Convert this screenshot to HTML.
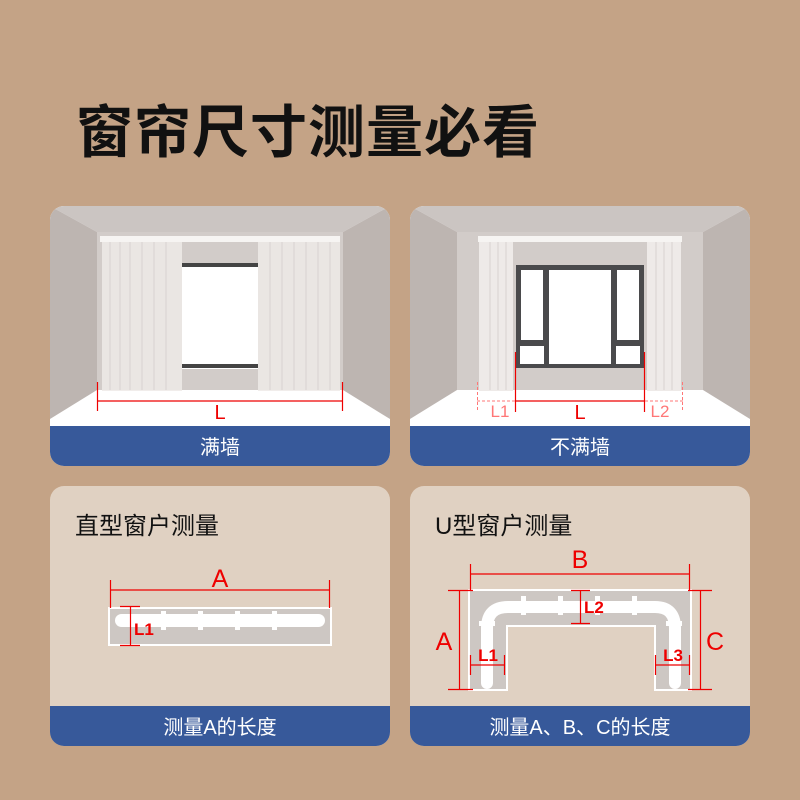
<!DOCTYPE html>
<html><head><meta charset="utf-8"><style>
body{margin:0;width:800px;height:800px;background:#c4a386;font-family:"Liberation Sans","Noto Sans CJK SC",sans-serif;overflow:hidden}
</style></head><body>
<svg width="800" height="800" viewBox="0 0 800 800" xmlns="http://www.w3.org/2000/svg" style="position:absolute;left:0;top:0">
<defs>
<clipPath id="c1"><rect x="0" y="0" width="340" height="260" rx="14"/></clipPath>
</defs>
<text x="76" y="152" font-size="57" font-weight="bold" fill="#111" font-family="Noto Sans CJK SC, sans-serif" letter-spacing="1">窗帘尺寸测量必看</text>

<!-- card 1 -->
<g transform="translate(50,206)" clip-path="url(#c1)">
<rect width="340" height="260" fill="#fff"/>
<polygon points="0,0 340,0 293,26 47,26" fill="#cbc5c2"/>
<polygon points="0,0 47,26 47,184 0,213" fill="#bdb5b1"/>
<polygon points="340,0 293,26 293,184 340,213" fill="#bdb5b1"/>
<rect x="47" y="26" width="246" height="158" fill="#d2ccc9"/>
<rect x="132" y="57" width="76" height="106" fill="#fff"/>
<rect x="132" y="57" width="76" height="4" fill="#444"/>
<rect x="132" y="158" width="76" height="4" fill="#444"/>
<rect x="52" y="32" width="80" height="153" fill="#eeeae8" opacity="0.85"/>
<rect x="208" y="32" width="82" height="153" fill="#eeeae8" opacity="0.85"/>
<g stroke="#d8d3d0" stroke-width="1">
<line x1="60" y1="35" x2="60" y2="184"/><line x1="70" y1="35" x2="70" y2="184"/><line x1="80" y1="35" x2="80" y2="184"/><line x1="92" y1="35" x2="92" y2="184"/><line x1="104" y1="35" x2="104" y2="184"/><line x1="116" y1="35" x2="116" y2="184"/>
<line x1="220" y1="35" x2="220" y2="184"/><line x1="232" y1="35" x2="232" y2="184"/><line x1="244" y1="35" x2="244" y2="184"/><line x1="256" y1="35" x2="256" y2="184"/><line x1="268" y1="35" x2="268" y2="184"/><line x1="280" y1="35" x2="280" y2="184"/>
</g>
<rect x="50" y="30" width="240" height="6" fill="#f6f4f2"/>
<g stroke="#e00" stroke-width="1.2"><line x1="47" y1="195" x2="293" y2="195"/><line x1="47.5" y1="176" x2="47.5" y2="205"/><line x1="292.5" y1="176" x2="292.5" y2="205"/></g>
<text x="170" y="213" font-size="20" fill="#e00" text-anchor="middle">L</text>
<rect x="0" y="220" width="340" height="40" fill="#37599a"/>
<text x="170" y="248" font-size="20" fill="#fff" text-anchor="middle">满墙</text>
</g>

<!-- card 2 -->
<g transform="translate(410,206)" clip-path="url(#c1)">
<rect width="340" height="260" fill="#fff"/>
<polygon points="0,0 340,0 293,26 47,26" fill="#cbc5c2"/>
<polygon points="0,0 47,26 47,184 0,213" fill="#bdb5b1"/>
<polygon points="340,0 293,26 293,184 340,213" fill="#bdb5b1"/>
<rect x="47" y="26" width="246" height="158" fill="#d2ccc9"/>
<rect x="106" y="59" width="128" height="103" fill="#4a4a4c"/>
<rect x="111" y="64" width="22" height="70" fill="#fff"/>
<rect x="139" y="64" width="62" height="94" fill="#fff"/>
<rect x="207" y="64" width="22" height="70" fill="#fff"/>
<rect x="110" y="140" width="24" height="18" fill="#fff"/>
<rect x="206" y="140" width="24" height="18" fill="#fff"/>
<rect x="69" y="34" width="34" height="151" fill="#eeeae8"/>
<rect x="237" y="34" width="34" height="151" fill="#eeeae8"/>
<g stroke="#d8d3d0"><line x1="80" y1="36" x2="80" y2="184"/><line x1="88" y1="36" x2="88" y2="184"/><line x1="96" y1="36" x2="96" y2="184"/><line x1="246" y1="36" x2="246" y2="184"/><line x1="254" y1="36" x2="254" y2="184"/><line x1="262" y1="36" x2="262" y2="184"/></g>
<rect x="68" y="30" width="204" height="6" fill="#f6f4f2"/>
<g stroke="#e00" stroke-width="1.2"><line x1="105" y1="195" x2="235" y2="195"/><line x1="105.5" y1="146" x2="105.5" y2="206"/><line x1="234.5" y1="146" x2="234.5" y2="206"/></g>
<g stroke="#f77" stroke-width="1" stroke-dasharray="3,2"><line x1="67" y1="195" x2="105" y2="195"/><line x1="235" y1="195" x2="273" y2="195"/><line x1="67.5" y1="176" x2="67.5" y2="204"/><line x1="272.5" y1="176" x2="272.5" y2="204"/></g>
<text x="170" y="213" font-size="20" fill="#e00" text-anchor="middle">L</text>
<text x="90" y="211" font-size="17" fill="#f77" text-anchor="middle">L1</text>
<text x="250" y="211" font-size="17" fill="#f77" text-anchor="middle">L2</text>
<rect x="0" y="220" width="340" height="40" fill="#37599a"/>
<text x="170" y="248" font-size="20" fill="#fff" text-anchor="middle">不满墙</text>
</g>

<!-- card 3 -->
<g transform="translate(50,486)" clip-path="url(#c1)">
<rect width="340" height="260" fill="#e0d1c2"/>
<text x="25" y="48" font-size="24" fill="#111">直型窗户测量</text>
<rect x="59" y="122" width="222" height="37" fill="#cdc7c3" stroke="#fff" stroke-width="2"/>
<rect x="65" y="128" width="210" height="13" rx="6.5" fill="#fff"/>
<g fill="#fff"><rect x="111" y="125" width="5" height="19"/><rect x="148" y="125" width="5" height="19"/><rect x="185" y="125" width="5" height="19"/><rect x="222" y="125" width="5" height="19"/></g>
<g stroke="#e00" stroke-width="1.2"><line x1="60" y1="104" x2="280" y2="104"/><line x1="60.5" y1="94" x2="60.5" y2="122"/><line x1="279.5" y1="94" x2="279.5" y2="122"/><line x1="80.5" y1="120" x2="80.5" y2="160"/><line x1="70" y1="120.5" x2="90" y2="120.5"/><line x1="70" y1="159.5" x2="90" y2="159.5"/></g>
<text x="170" y="101" font-size="25" fill="#e00" text-anchor="middle">A</text>
<text x="84" y="149" font-size="17" font-weight="bold" fill="#e00">L1</text>
<rect x="0" y="220" width="340" height="40" fill="#37599a"/>
<text x="170" y="248" font-size="20" fill="#fff" text-anchor="middle">测量A的长度</text>
</g>

<!-- card 4 -->
<g transform="translate(410,486)" clip-path="url(#c1)">
<rect width="340" height="260" fill="#e0d1c2"/>
<text x="25" y="48" font-size="24" fill="#111">U型窗户测量</text>
<path d="M59 104 H281 V204 H245 V140 H97 V204 H59 Z" fill="#cdc7c3" stroke="#fff" stroke-width="2"/>
<path d="M77 197 V142 Q77 121 98 121 H245 Q265 121 265 142 V197" fill="none" stroke="#fff" stroke-width="12" stroke-linecap="round"/>
<g fill="#fff"><rect x="111" y="110" width="5" height="19"/><rect x="148" y="110" width="5" height="19"/><rect x="185" y="110" width="5" height="19"/><rect x="222" y="110" width="5" height="19"/><rect x="69" y="135" width="16" height="5"/><rect x="256" y="135" width="16" height="5"/></g>
<g stroke="#e00" stroke-width="1.2">
<line x1="60" y1="88" x2="280" y2="88"/><line x1="60.5" y1="78" x2="60.5" y2="104"/><line x1="279.5" y1="78" x2="279.5" y2="104"/>
<line x1="49.5" y1="104" x2="49.5" y2="204"/><line x1="38" y1="104.5" x2="63" y2="104.5"/><line x1="38" y1="203.5" x2="63" y2="203.5"/>
<line x1="290.5" y1="104" x2="290.5" y2="204"/><line x1="278" y1="104.5" x2="302" y2="104.5"/><line x1="278" y1="203.5" x2="302" y2="203.5"/>
<line x1="170.5" y1="104" x2="170.5" y2="138"/><line x1="161" y1="104.5" x2="180" y2="104.5"/><line x1="161" y1="137.5" x2="180" y2="137.5"/>
<line x1="60" y1="179" x2="95" y2="179"/><line x1="60.5" y1="169" x2="60.5" y2="189"/><line x1="94.5" y1="169" x2="94.5" y2="189"/>
<line x1="245" y1="179" x2="280" y2="179"/><line x1="245.5" y1="169" x2="245.5" y2="189"/><line x1="279.5" y1="169" x2="279.5" y2="189"/>
</g>
<text x="170" y="82" font-size="25" fill="#e00" text-anchor="middle">B</text>
<text x="34" y="164" font-size="25" fill="#e00" text-anchor="middle">A</text>
<text x="305" y="164" font-size="25" fill="#e00" text-anchor="middle">C</text>
<text x="174" y="127" font-size="17" font-weight="bold" fill="#e00">L2</text>
<text x="78" y="175" font-size="17" font-weight="bold" fill="#e00" text-anchor="middle">L1</text>
<text x="263" y="175" font-size="17" font-weight="bold" fill="#e00" text-anchor="middle">L3</text>
<rect x="0" y="220" width="340" height="40" fill="#37599a"/>
<text x="170" y="248" font-size="20" fill="#fff" text-anchor="middle">测量A、B、C的长度</text>
</g>
</svg>
</body></html>
